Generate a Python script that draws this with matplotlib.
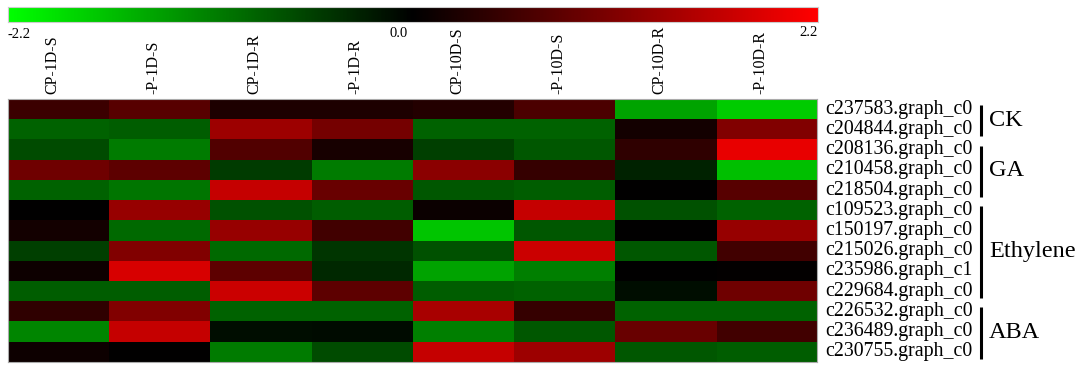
import numpy as np
import matplotlib
matplotlib.use("Agg")
import matplotlib.pyplot as plt
from matplotlib.colors import LinearSegmentedColormap

plt.rcParams['font.family'] = ['Liberation Serif', 'DejaVu Serif']

samples = ["CP-1D-S", "-P-1D-S", "CP-1D-R", "-P-1D-R",
           "CP-10D-S", "-P-10D-S", "CP-10D-R", "-P-10D-R"]
genes = ["c237583.graph_c0", "c204844.graph_c0", "c208136.graph_c0",
         "c210458.graph_c0", "c218504.graph_c0", "c109523.graph_c0",
         "c150197.graph_c0", "c215026.graph_c0", "c235986.graph_c1",
         "c229684.graph_c0", "c226532.graph_c0", "c236489.graph_c0",
         "c230755.graph_c0"]
groups = [("CK", 0, 1), ("GA", 2, 4), ("Ethylene", 5, 9), ("ABA", 10, 12)]

# log2 fold change values
values = np.array([
    [0.50, 0.75, 0.25, 0.25, 0.30, 0.65, -1.40, -1.75],
    [-0.85, -0.80, 1.35, 1.00, -0.85, -0.85, 0.17, 1.10],
    [-0.65, -1.05, 0.70, 0.20, -0.55, -0.75, 0.40, 2.00],
    [0.95, 0.80, -0.50, -1.05, 1.20, 0.45, -0.30, -1.65],
    [-0.85, -1.00, 1.70, 0.90, -0.75, -0.80, 0.00, 0.75],
    [0.00, 1.30, -0.70, -0.80, 0.10, 1.70, -0.70, -0.85],
    [0.17, -0.90, 1.30, 0.55, -1.70, -0.75, 0.00, 1.30],
    [-0.55, 1.10, -0.90, -0.45, -0.70, 1.75, -0.75, 0.55],
    [0.12, 1.85, 0.80, -0.35, -1.40, -1.10, 0.00, 0.02],
    [-0.80, -0.80, 1.75, 0.80, -0.80, -0.85, -0.12, 0.95],
    [0.40, 1.10, -0.85, -0.85, 1.45, 0.45, -0.85, -0.85],
    [-1.15, 1.70, -0.12, -0.10, -1.10, -0.75, 0.90, 0.55],
    [0.12, 0.00, -1.05, -0.65, 1.70, 1.35, -0.75, -0.80],
])
vmin, vmax = -2.2, 2.2

cmap = LinearSegmentedColormap.from_list("gkr", ["#00ff00", "#000000", "#ff0000"])

W, H = 1084, 375
fig = plt.figure(figsize=(W / 100, H / 100), dpi=100)

# heatmap
ax = fig.add_axes([8 / W, (H - 362) / H, 809 / W, 263 / H])
ax.imshow(values, cmap=cmap, vmin=vmin, vmax=vmax, aspect='auto',
          interpolation='nearest')
ax.set_xticks([])
ax.set_yticks([])
for s in ax.spines.values():
    s.set_color("#aaaaaa")
    s.set_linewidth(0.8)

# column labels
for i, name in enumerate(samples):
    ax.text(i - 0.06, -0.75, name, rotation=90, ha='center', va='bottom',
            fontsize=11.5)

# row labels
for j, name in enumerate(genes):
    ax.text(7.58, j, name, ha='left', va='center', fontsize=14.3)

# group brackets
for label, start, end in groups:
    ax.plot([9.12, 9.12], [start - 0.2, end + 0.35], color='black',
            lw=2.2, clip_on=False, solid_capstyle='butt')
    ax.text(9.2, (start + end) / 2 + 0.05, label, ha='left', va='center',
            fontsize=17.5)
ax.set_xlim(-0.5, len(samples) - 0.5)
ax.set_ylim(len(genes) - 0.5, -0.5)

# colour bar
cax = fig.add_axes([8 / W, (H - 22) / H, 810 / W, 15 / H])
grad = np.linspace(vmin, vmax, 512).reshape(1, -1)
cax.imshow(grad, cmap=cmap, vmin=vmin, vmax=vmax, aspect='auto',
           extent=[vmin, vmax, 0, 1])
cax.set_xticks([])
cax.set_yticks([])
for s in cax.spines.values():
    s.set_color("#cccccc")
    s.set_linewidth(0.8)
cax.text(vmin, -0.4, "-2.2", ha='left', va='top', fontsize=10.5)
cax.text(-0.03, -0.35, "0.0", ha='right', va='top', fontsize=10.5)
cax.text(vmax, -0.25, "2.2", ha='right', va='top', fontsize=10.5)

fig.savefig("out.png", dpi=100)
